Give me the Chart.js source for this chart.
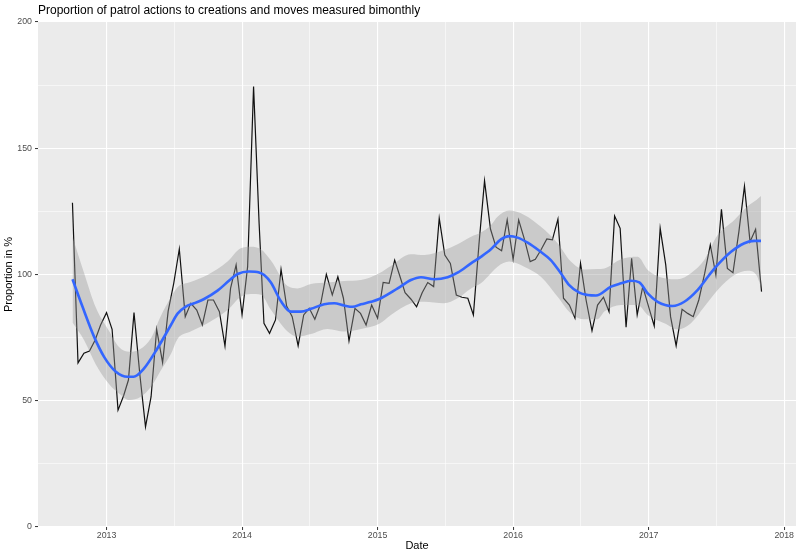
<!DOCTYPE html>
<html>
<head>
<meta charset="utf-8">
<title>Patrol actions proportion</title>
<script src="https://cdn.jsdelivr.net/npm/chart.js@4.4.1/dist/chart.umd.min.js"></script>
<style>
  html, body { margin: 0; padding: 0; background: #fff; }
  canvas { display: block; }
</style>
</head>
<body>
<canvas id="chart" width="800" height="554"></canvas>
<script>
const titleText = 'Proportion of patrol actions to creations and moves measured bimonthly';
const xTitle = 'Date';
const yTitle = 'Proportion in %';

const yearTicks = [2013, 2014, 2015, 2016, 2017, 2018];
const yTicks = [0, 50, 100, 150, 200];

// one sample on the 1st and one on the 16th of each month, Oct 2012 .. Nov 2017
const firstMonth = [2012, 10];
const lastDate = '2017-11-01';

// proportion in %, one per date
const proportion = [
  128.4, 65.0, 68.8, 69.7, 74.0, 80.0, 84.9, 78.3, 46.3, 52.0,
  58.2, 84.9, 60.0, 39.7, 51.6, 78.3, 65.1, 85.5, 96.5, 110.1,
  83.3, 88.6, 85.9, 80.0, 89.9, 89.9, 85.3, 71.7, 94.5, 103.8,
  84.0, 103.1, 174.4, 120.0, 80.7, 76.7, 82.0, 102.0, 87.5, 83.3,
  71.8, 84.0, 86.6, 82.3, 88.6, 100.1, 91.9, 99.1, 90.6, 73.7,
  86.6, 84.6, 80.0, 87.9, 82.7, 96.9, 96.5, 105.7, 99.8, 92.8,
  90.2, 87.2, 92.8, 96.8, 95.2, 122.3, 107.7, 104.4, 91.9, 91.0,
  90.6, 84.0, 112.0, 137.1, 118.0, 110.8, 109.4, 121.6, 106.0, 121.6,
  113.7, 105.1, 106.0, 109.7, 114.1, 113.7, 121.9, 90.6, 87.9, 82.7,
  104.4, 89.9, 77.7, 87.9, 91.0, 85.3, 123.2, 118.3, 79.1, 106.4,
  84.0, 95.2, 87.2, 79.6, 118.3, 103.8, 83.3, 71.8, 86.2, 84.6,
  83.3, 89.9, 100.5, 111.7, 99.8, 125.8, 102.4, 100.7, 117.0, 135.0,
  113.0, 117.9, 93.2
];

// loess smooth (decimal years)
const smoothX = [
  2012.749, 2012.823, 2012.908, 2012.982, 2013.069, 2013.155, 2013.199, 2013.277, 2013.376, 2013.475,
  2013.524, 2013.585, 2013.646, 2013.720, 2013.819, 2013.905, 2013.967, 2014.052, 2014.126, 2014.163,
  2014.213, 2014.286, 2014.360, 2014.434, 2014.508, 2014.606, 2014.680, 2014.754, 2014.815, 2014.877,
  2014.951, 2015.012, 2015.148, 2015.246, 2015.320, 2015.418, 2015.517, 2015.590, 2015.689, 2015.762,
  2015.836, 2015.910, 2015.971, 2016.033, 2016.107, 2016.193, 2016.278, 2016.352, 2016.414, 2016.488,
  2016.550, 2016.611, 2016.722, 2016.796, 2016.869, 2016.931, 2016.993, 2017.066, 2017.177, 2017.263,
  2017.362, 2017.447, 2017.497, 2017.608, 2017.706, 2017.779, 2017.829
];
const smoothY = [
  98.1, 87.2, 75.4, 67.4, 61.5, 59.5, 59.5, 62.8, 70.8, 80.0,
  84.5, 87.3, 88.6, 90.3, 93.6, 97.6, 100.2, 101.2, 100.8, 99.8,
  96.8, 89.5, 85.3, 85.3, 86.4, 88.2, 88.6, 87.7, 87.2, 88.2,
  89.2, 90.3, 94.5, 97.8, 98.9, 98.1, 98.9, 100.7, 104.4, 107.0,
  110.0, 113.9, 115.2, 114.6, 112.6, 109.4, 105.7, 100.5, 95.8, 92.8,
  91.9, 91.7, 95.2, 96.5, 97.5, 96.9, 92.5, 89.2, 87.5, 89.2,
  93.9, 99.8, 103.1, 109.0, 112.4, 113.3, 113.3
];

// confidence band of the smooth
const bandX = [
  2012.749, 2012.835, 2012.920, 2013.020, 2013.090, 2013.170, 2013.250, 2013.330, 2013.400, 2013.475,
  2013.524, 2013.620, 2013.745, 2013.893, 2013.990, 2014.065, 2014.139, 2014.213, 2014.336, 2014.410,
  2014.508, 2014.631, 2014.754, 2014.877, 2015.012, 2015.098, 2015.246, 2015.344, 2015.490, 2015.590,
  2015.690, 2015.762, 2015.836, 2015.885, 2015.971, 2016.082, 2016.205, 2016.328, 2016.426, 2016.524,
  2016.624, 2016.673, 2016.796, 2016.919, 2016.993, 2017.116, 2017.214, 2017.312, 2017.410, 2017.509,
  2017.632, 2017.730, 2017.795, 2017.829
];
const bandHi = [
  115.0, 100.5, 87.0, 77.5, 71.4, 69.4, 70.5, 75.0, 83.5, 91.0,
  95.0, 97.0, 99.8, 105.1, 110.4, 111.0, 110.0, 105.5, 95.4, 94.5,
  96.2, 96.8, 97.4, 97.8, 100.5, 103.4, 108.0, 107.7, 109.7, 112.0,
  115.0, 116.6, 119.5, 122.9, 125.3, 123.6, 118.9, 112.4, 105.1, 102.0,
  102.2, 102.4, 106.0, 107.0, 101.8, 98.5, 98.1, 100.5, 105.7, 115.6,
  121.6, 127.0, 129.5, 131.1
];
const bandLo = [
  81.0, 74.0, 64.5, 56.5, 53.0, 50.3, 51.5, 55.6, 62.0, 68.5,
  74.5, 77.4, 80.7, 85.9, 91.2, 92.3, 92.0, 86.0, 77.4, 75.4,
  76.4, 78.4, 77.4, 78.4, 80.5, 84.0, 88.6, 89.2, 88.6, 90.6,
  94.5, 96.5, 100.5, 103.1, 105.1, 103.1, 99.1, 91.2, 84.6, 82.3,
  82.3, 85.3, 87.9, 87.9, 84.0, 80.7, 78.3, 80.7, 87.2, 93.9,
  99.8, 101.5, 99.8, 95.0
];

const pad2 = n => String(n).padStart(2, '0');
const dates = [];
for (let [y, m] = firstMonth; ; ) {
  const a = `${y}-${pad2(m)}-01`;
  dates.push(a);
  if (a === lastDate) break;
  dates.push(`${y}-${pad2(m)}-16`);
  m++;
  if (m > 12) { m = 1; y++; }
}

function toYear(s) {
  const [y, m, d] = s.split('-').map(Number);
  const t0 = Date.UTC(y, 0, 1);
  return y + (Date.UTC(y, m - 1, d) - t0) / (Date.UTC(y + 1, 0, 1) - t0);
}

const xs = dates.map(toYear);
const span = xs[xs.length - 1] - xs[0];
const xMin = xs[0] - 0.05 * span;
const xMax = xs[xs.length - 1] + 0.05 * span;

const xGridTicks = [];
yearTicks.forEach((y, i) => {
  if (i > 0) xGridTicks.push(y - 0.5);
  xGridTicks.push(y);
});
const yGridTicks = [];
yTicks.forEach((v, i) => {
  if (i > 0) yGridTicks.push(v - 25);
  yGridTicks.push(v);
});

const FONT = '"Liberation Sans", Arial, Helvetica, sans-serif';
const isMajorX = v => yearTicks.includes(v);
const isMajorY = v => yTicks.includes(v);

const panelBg = {
  id: 'panelBg',
  beforeDraw(chart) {
    const { ctx, chartArea: a } = chart;
    ctx.save();
    ctx.fillStyle = '#EBEBEB';
    ctx.fillRect(a.left, a.top, a.right - a.left, a.bottom - a.top);
    ctx.restore();
  }
};

const plotTitle = {
  id: 'plotTitle',
  afterDraw(chart) {
    const { ctx, chartArea } = chart;
    ctx.save();
    ctx.font = '12px ' + FONT;
    ctx.fillStyle = '#000';
    ctx.textBaseline = 'middle';
    ctx.textAlign = 'left';
    ctx.fillText(titleText, chartArea.left, 10.5);
    ctx.restore();
  }
};

const ctx = document.getElementById('chart').getContext('2d');
new Chart(ctx, {
  type: 'line',
  data: {
    datasets: [
      {
        label: 'smooth',
        data: smoothX.map((x, i) => ({ x, y: smoothY[i] })),
        borderColor: '#3366FF',
        borderWidth: 2.6,
        pointRadius: 0,
        cubicInterpolationMode: 'monotone',
        fill: false,
        order: 1
      },
      {
        label: 'upper',
        data: bandX.map((x, i) => ({ x, y: bandHi[i] })),
        borderWidth: 0,
        borderColor: 'rgba(0,0,0,0)',
        backgroundColor: 'rgba(153,153,153,0.4)',
        pointRadius: 0,
        cubicInterpolationMode: 'monotone',
        fill: '+1',
        order: 2
      },
      {
        label: 'lower',
        data: bandX.map((x, i) => ({ x, y: bandLo[i] })),
        borderWidth: 0,
        borderColor: 'rgba(0,0,0,0)',
        pointRadius: 0,
        cubicInterpolationMode: 'monotone',
        fill: false,
        order: 3
      },
      {
        label: 'proportion',
        data: xs.map((x, i) => ({ x, y: proportion[i] })),
        borderColor: '#111',
        borderWidth: 1.2,
        pointRadius: 0,
        tension: 0,
        fill: false,
        order: 4
      }
    ]
  },
  options: {
    responsive: false,
    animation: false,
    events: [],
    layout: { padding: { top: 22, right: 4, left: 0, bottom: 0 } },
    plugins: {
      legend: { display: false },
      tooltip: { enabled: false },
      title: { display: false }
    },
    scales: {
      x: {
        type: 'linear',
        min: xMin,
        max: xMax,
        afterBuildTicks: s => { s.ticks = xGridTicks.map(v => ({ value: v })); },
        afterFit: s => { s.height = 27; },
        border: { display: false },
        grid: {
          color: '#FFFFFF',
          lineWidth: c => (isMajorX(c.tick.value) ? 1.1 : 0.55),
          tickColor: c => (isMajorX(c.tick.value) ? '#333333' : 'rgba(0,0,0,0)'),
          tickLength: 3,
          tickWidth: 1
        },
        ticks: {
          autoSkip: false,
          maxRotation: 0,
          padding: 0.5,
          color: '#4D4D4D',
          font: { family: FONT, size: 8.8 },
          callback: v => (isMajorX(v) ? String(v) : '')
        },
        title: {
          display: true,
          text: xTitle,
          color: '#000',
          font: { family: FONT, size: 11 },
          padding: { top: 0, bottom: 1.7 }
        }
      },
      y: {
        min: 0,
        max: 200,
        afterBuildTicks: s => { s.ticks = yGridTicks.map(v => ({ value: v })); },
        afterFit: s => { s.width = 38; },
        border: { display: false },
        grid: {
          color: '#FFFFFF',
          lineWidth: c => (isMajorY(c.tick.value) ? 1.1 : 0.55),
          tickColor: c => (isMajorY(c.tick.value) ? '#333333' : 'rgba(0,0,0,0)'),
          tickLength: 3,
          tickWidth: 1
        },
        ticks: {
          padding: 3,
          color: '#4D4D4D',
          font: { family: FONT, size: 8.8 },
          callback: v => (isMajorY(v) ? String(v) : '')
        },
        title: {
          display: true,
          text: yTitle,
          color: '#000',
          font: { family: FONT, size: 11 },
          padding: { top: 2.4, bottom: 0 }
        }
      }
    }
  },
  plugins: [panelBg, plotTitle]
});
</script>
</body>
</html>
